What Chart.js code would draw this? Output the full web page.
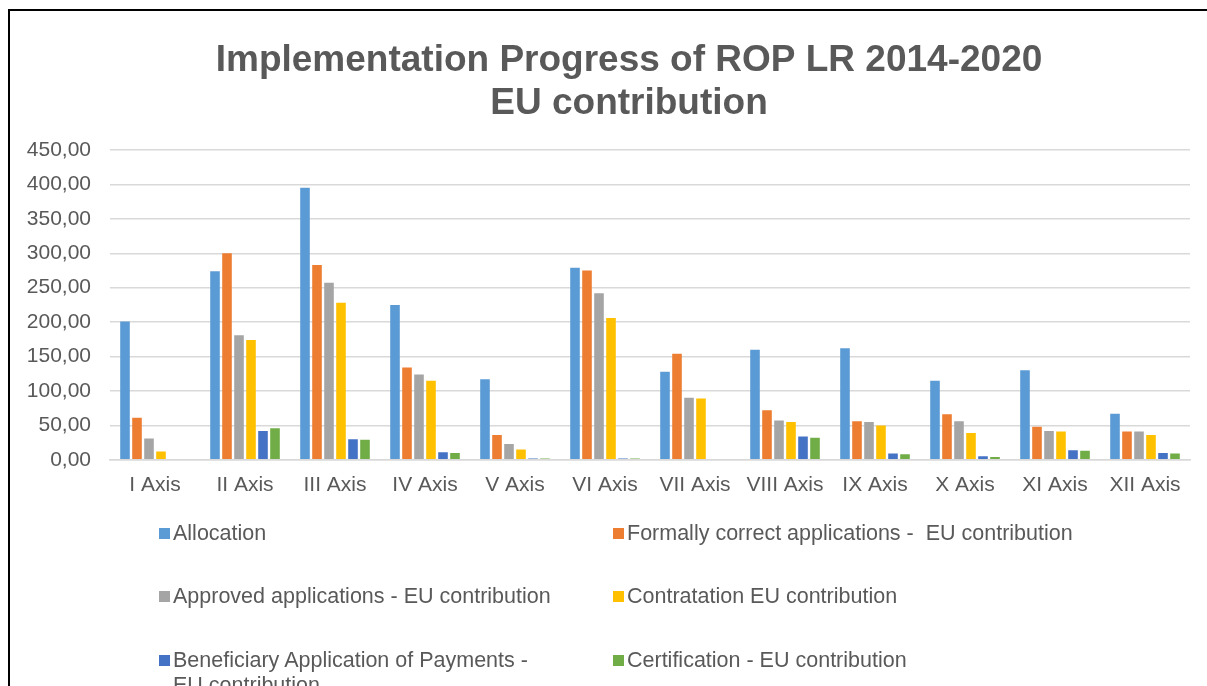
<!DOCTYPE html>
<html>
<head>
<meta charset="utf-8">
<script src="https://cdn.jsdelivr.net/npm/chart.js@4.4.0/dist/chart.umd.min.js"></script>
<style>
  html, body { margin: 0; padding: 0; background: #fff; overflow: hidden; width: 1207px; height: 686px; }
  #frame { position: absolute; left: 8px; top: 9px; width: 1230px; height: 720px; border: 2px solid #000; box-sizing: border-box; }
  #wrap { position: absolute; left: 0; top: 0; width: 1207px; height: 520px; }
  #legend { position: absolute; left: 0; top: 0; width: 1207px; height: 686px; pointer-events: none; font-family: "Liberation Sans", Arial, sans-serif; font-size: 21.5px; color: #595959; }
  .item { position: absolute; display: flex; align-items: flex-start; line-height: 25px; }
  .mark { width: 11px; height: 11px; margin-top: 7px; margin-right: 3px; flex: none; }
  .txt { white-space: pre-wrap; }
</style>
</head>
<body>
<div id="frame"></div>
<div id="wrap"><canvas id="c" width="1207" height="520"></canvas></div>
<div id="legend"></div>
<script>
const categories = ["I Axis","II Axis","III Axis","IV Axis","V Axis","VI Axis","VII Axis","VIII Axis","IX Axis","X Axis","XI Axis","XII Axis"];
const seriesNames = [
  "Allocation",
  "Formally correct applications -  EU contribution",
  "Approved applications - EU contribution",
  "Contratation EU contribution",
  "Beneficiary Application of Payments - EU contribution",
  "Certification - EU contribution"
];
const allocation    = [201, 274, 395, 225, 117, 279, 128, 160, 162, 115, 130, 67];
const formally      = [61, 300, 283, 134, 36, 275, 154, 72, 56, 66, 48, 41];
const approved      = [31, 181, 257, 124, 23, 242, 90, 57, 55, 56, 42, 41];
const contratation  = [12, 174, 228, 115, 15, 206, 89, 55, 50, 39, 41, 36];
const beneficiary   = [1, 42, 30, 11, 2, 2, 1, 34, 9, 5, 14, 10];
const certification = [1, 46, 29, 10, 2, 2, 1, 32, 8, 4, 13, 9];
const yTicks = [0, 50, 100, 150, 200, 250, 300, 350, 400, 450];
const titleLines = ["Implementation Progress of ROP LR 2014-2020", "EU contribution"];

const colors = ["#5B9BD5", "#ED7D31", "#A5A5A5", "#FFC000", "#4472C4", "#70AD47"];
const values = [allocation, formally, approved, contratation, beneficiary, certification];
const FONT = '"Liberation Sans", Arial, sans-serif';

// Title drawn on the canvas, centred on the chart frame
const frameTitle = {
  id: 'frameTitle',
  afterDraw(chart) {
    const ctx = chart.ctx;
    ctx.save();
    ctx.font = 'bold 37px ' + FONT;
    ctx.fillStyle = '#595959';
    ctx.textAlign = 'center';
    ctx.textBaseline = 'middle';
    titleLines.forEach((line, i) => ctx.fillText(line, 629, 61 + i * 43));
    ctx.restore();
  }
};

const chart = new Chart(document.getElementById('c'), {
  type: 'bar',
  data: {
    labels: categories,
    datasets: values.map((v, i) => ({
      label: seriesNames[i],
      data: v,
      backgroundColor: colors[i],
      borderWidth: 0,
      barPercentage: 0.8,
      categoryPercentage: 0.8
    }))
  },
  plugins: [frameTitle],
  options: {
    responsive: false,
    animation: false,
    layout: { padding: { left: 0, right: 17, top: 150, bottom: 9 } },
    plugins: {
      legend: { display: false },
      tooltip: { enabled: false },
      title: { display: false }
    },
    scales: {
      x: {
        grid: { display: false, drawTicks: false },
        border: { display: true, color: '#D9D9D9', width: 1.5 },
        ticks: { color: '#595959', font: { family: FONT, size: 21 }, padding: 13, maxRotation: 0, autoSkip: false }
      },
      y: {
        min: 0, max: 450,
        afterBuildTicks: (s) => { s.ticks = yTicks.map(v => ({ value: v })); },
        afterFit: (s) => { s.width = 110; },
        grid: { color: '#D9D9D9', lineWidth: 1.5, drawTicks: false },
        border: { display: false },
        ticks: {
          color: '#595959', font: { family: FONT, size: 21 }, padding: 19,
          callback: (v) => Number(v).toFixed(2).replace('.', ',')
        }
      }
    }
  }
});

// HTML legend built from the chart's datasets
const legend = document.getElementById('legend');
const colX = [159, 613];
const colW = [384, 580];
const rowY = [533, 596, 660];
chart.data.datasets.forEach((ds, i) => {
  const it = document.createElement('div');
  it.className = 'item';
  it.style.left = colX[i % 2] + 'px';
  it.style.top = (rowY[Math.floor(i / 2)] - 12.5) + 'px';
  const m = document.createElement('div');
  m.className = 'mark';
  m.style.background = ds.backgroundColor;
  const t = document.createElement('div');
  t.className = 'txt';
  t.style.maxWidth = colW[i % 2] + 'px';
  t.textContent = ds.label;
  it.appendChild(m); it.appendChild(t);
  legend.appendChild(it);
});
</script>
</body>
</html>
